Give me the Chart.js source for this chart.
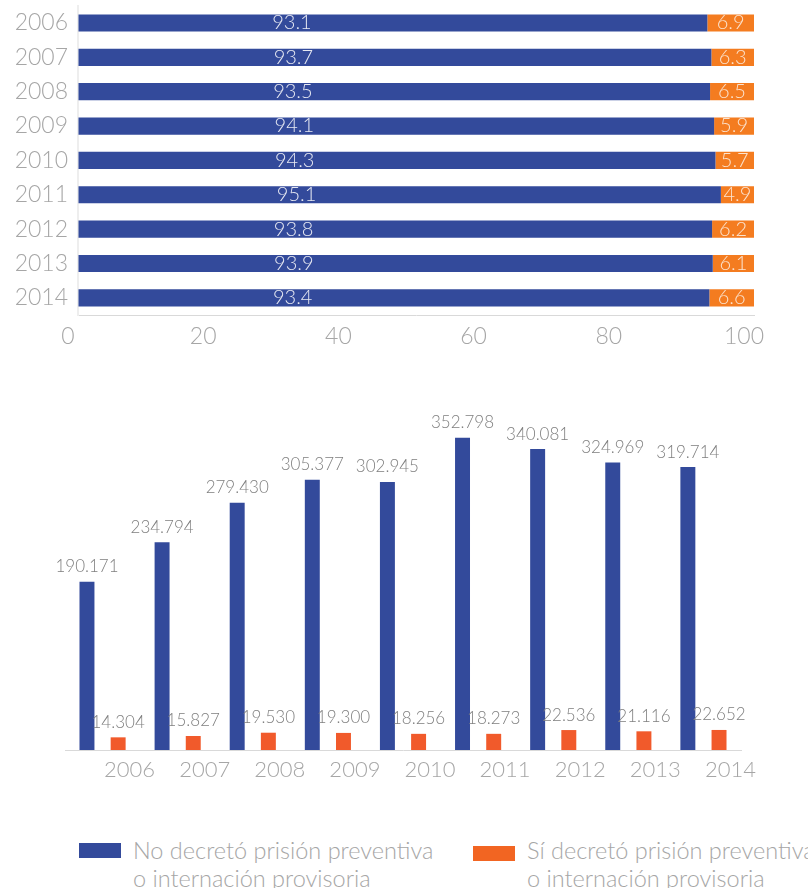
<!DOCTYPE html>
<html>
<head>
<meta charset="utf-8">
<script src="https://cdn.jsdelivr.net/npm/chart.js@4/dist/chart.umd.min.js"></script>
<style>
  body { margin: 0; background: #fff; width: 808px; height: 888px; overflow: hidden; position: relative; font-family: Lato, sans-serif; }
  #topWrap { position: absolute; left: 0; top: -18px; width: 808px; height: 373px; }
  #bottomWrap { position: absolute; left: 0; top: 380px; width: 808px; height: 420px; }
  .legend-item { position: absolute; top: 836px; font-family: Lato, sans-serif; font-weight: 300; font-size: 23.5px; line-height: 28px; color: #a6a6a6; white-space: nowrap; }
  .legend-item .box { position: absolute; top: 7px; width: 42px; height: 15px; }
  .legend-item .txt { position: absolute; left: 54px; top: 0; }
</style>
</head>
<body>
<div id="topWrap"><canvas id="shareChart" width="808" height="373"></canvas></div>
<div id="bottomWrap"><canvas id="countChart" width="808" height="420"></canvas></div>
<div class="legend-item" style="left:79px"><div class="box" style="background:#334a9b"></div><div class="txt">No decretó prisión preventiva<br>o internación provisoria</div></div>
<div class="legend-item" style="left:473px"><div class="box" style="background:#f26522; top:10px"></div><div class="txt">Sí decretó prisión preventiva<br>o internación provisoria</div></div>
<script>
const years = ["2006", "2007", "2008", "2009", "2010", "2011", "2012", "2013", "2014"];
const pctNo = [93.1, 93.7, 93.5, 94.1, 94.3, 95.1, 93.8, 93.9, 93.4];
const pctSi = [6.9, 6.3, 6.5, 5.9, 5.7, 4.9, 6.2, 6.1, 6.6];
const countNo = [190171, 234794, 279430, 305377, 302945, 352798, 340081, 324969, 319714];
const countSi = [14304, 15827, 19530, 19300, 18256, 18273, 22536, 21116, 22652];

const blue = "#334a9b";
const orangeTop = "#f47c20";
const orangeBottom = "#f15a2b";
const tickGrey = "#a6a6a6";
const axisGrey = "#d9d9d9";
const FONT = "Lato, sans-serif";

function fmtThousands(n) {
  return String(n).replace(/\B(?=(\d{3})+(?!\d))/g, ".");
}

// labels inside the stacked bars
const shareLabels = {
  id: "shareLabels",
  afterDatasetsDraw(chart) {
    const ctx = chart.ctx;
    const x = chart.scales.x;
    ctx.save();
    ctx.font = "300 20px " + FONT;
    ctx.textAlign = "center";
    ctx.textBaseline = "middle";
    chart.getDatasetMeta(0).data.forEach((bar, i) => {
      ctx.fillStyle = "#e6e8f2";
      ctx.fillText(pctNo[i].toFixed(1), x.getPixelForValue(pctNo[i] * 0.34), bar.y);
    });
    chart.getDatasetMeta(1).data.forEach((bar, i) => {
      ctx.fillStyle = "#fbe3cf";
      ctx.fillText(pctSi[i].toFixed(1), (bar.x + bar.base) / 2, bar.y);
    });
    ctx.restore();
  },
};

new Chart(document.getElementById("shareChart").getContext("2d"), {
  type: "bar",
  data: {
    labels: years,
    datasets: [
      { label: "No", data: pctNo, backgroundColor: blue, categoryPercentage: 1, barPercentage: 0.5 },
      { label: "Sí", data: pctSi, backgroundColor: orangeTop, categoryPercentage: 1, barPercentage: 0.5 },
    ],
  },
  options: {
    indexAxis: "y",
    responsive: false,
    animation: false,
    layout: { padding: { top: 0, right: 54, left: 0, bottom: 0 } },
    plugins: { legend: { display: false }, tooltip: { enabled: false } },
    scales: {
      x: {
        stacked: true,
        min: 0,
        max: 100,
        ticks: { stepSize: 20, color: tickGrey, font: { family: FONT, size: 23, weight: 300 }, labelOffset: -10, padding: 8 },
        grid: { drawOnChartArea: false, drawTicks: false },
        border: { display: true, color: axisGrey, width: 1 },
        afterFit: (s) => { s.height = 40; },
      },
      y: {
        stacked: true,
        ticks: { color: tickGrey, font: { family: FONT, size: 23, weight: 300 }, padding: 10 },
        grid: { drawOnChartArea: false, drawTicks: false },
        border: { display: true, color: "#eeeeee", width: 2 },
        afterFit: (s) => { s.width = 78; },
      },
    },
  },
  plugins: [shareLabels],
});

// labels above the grouped bars
const countLabels = {
  id: "countLabels",
  afterDatasetsDraw(chart) {
    const ctx = chart.ctx;
    ctx.save();
    ctx.font = "300 17px " + FONT;
    ctx.fillStyle = "#7f7f7f";
    ctx.textAlign = "center";
    ctx.textBaseline = "middle";
    [countNo, countSi].forEach((vals, d) => {
      chart.getDatasetMeta(d).data.forEach((bar, i) => {
        ctx.fillText(fmtThousands(vals[i]), bar.x, bar.y - 15);
      });
    });
    ctx.restore();
  },
};

new Chart(document.getElementById("countChart").getContext("2d"), {
  type: "bar",
  data: {
    labels: years,
    datasets: [
      { label: "No decretó prisión preventiva o internación provisoria", data: countNo, backgroundColor: blue, categoryPercentage: 0.83, barPercentage: 0.48 },
      { label: "Sí decretó prisión preventiva o internación provisoria", data: countSi, backgroundColor: orangeBottom, categoryPercentage: 0.83, barPercentage: 0.48 },
    ],
  },
  options: {
    responsive: false,
    animation: false,
    layout: { padding: { top: 16, right: 67, left: 65, bottom: 0 } },
    plugins: { legend: { display: false }, tooltip: { enabled: false } },
    scales: {
      x: {
        ticks: { color: tickGrey, font: { family: FONT, size: 22, weight: 300 }, labelOffset: 27, padding: 7 },
        grid: { drawOnChartArea: false, drawTicks: false },
        border: { display: true, color: axisGrey, width: 1 },
        afterFit: (s) => { s.height = 50; },
      },
      y: { display: false, min: 0, max: 400000 },
    },
  },
  plugins: [countLabels],
});
</script>
</body>
</html>
